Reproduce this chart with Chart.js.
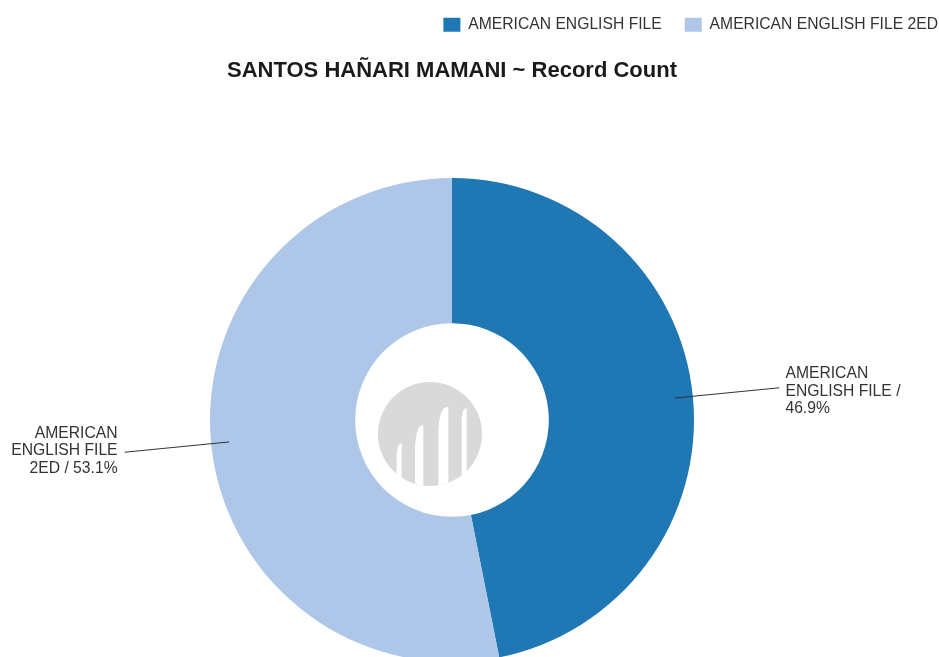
<!DOCTYPE html>
<html>
<head>
<meta charset="utf-8">
<title>SANTOS HAÑARI MAMANI ~ Record Count</title>
<script src="https://cdn.jsdelivr.net/npm/chart.js@4.4.1/dist/chart.umd.min.js"></script>
<style>
  html, body { margin: 0; padding: 0; background: #fff; overflow: hidden; }
  #wrap { position: relative; width: 939px; height: 657px; }
</style>
</head>
<body>
<div id="wrap"><canvas id="recordChart"></canvas></div>
<script>
// data
const categories = ['AMERICAN ENGLISH FILE', 'AMERICAN ENGLISH FILE 2ED'];
const recordCounts = [15, 17];
const sliceColors = ['#1f77b4', '#aec7e8'];
const chartTitle = 'SANTOS HAÑARI MAMANI ~ Record Count';

const FONT = "'Liberation Sans', Arial, sans-serif";

// wrap a label into lines no wider than maxWidth
function wrapText(ctx, text, maxWidth) {
    const words = text.split(' ');
    const lines = [];
    let line = '';
    words.forEach(w => {
        const test = line ? line + ' ' + w : w;
        if (line && ctx.measureText(test).width > maxWidth) {
            lines.push(line);
            line = w;
        } else {
            line = test;
        }
    });
    if (line) lines.push(line);
    return lines;
}

// the pie in the original sits a bit left of centre and runs off the bottom
const pieArea = {
    id: 'pieArea',
    afterLayout(chart) {
        const top = 178, bottom = 662, left = -35, right = 939;
        chart.chartArea = { left, top, right, bottom, width: right - left, height: bottom - top };
    }
};

// outside labels with radial leader lines
const sliceLabels = {
    id: 'sliceLabels',
    afterDatasetsDraw(chart) {
        const ctx = chart.ctx;
        const meta = chart.getDatasetMeta(0);
        const data = chart.data.datasets[0].data;
        const total = data.reduce((a, b) => a + b, 0);
        ctx.save();
        ctx.font = '15.7px ' + FONT;
        meta.data.forEach((arc, i) => {
            const p = arc.getProps(['x', 'y', 'startAngle', 'endAngle', 'outerRadius'], true);
            const mid = (p.startAngle + p.endAngle) / 2;
            const c = Math.cos(mid), s = Math.sin(mid);
            const x1 = p.x + c * (p.outerRadius - 18), y1 = p.y + s * (p.outerRadius - 18);
            const x2 = p.x + c * (p.outerRadius + 87), y2 = p.y + s * (p.outerRadius + 87);
            ctx.strokeStyle = '#333';
            ctx.lineWidth = 1;
            ctx.beginPath();
            ctx.moveTo(x1, y1);
            ctx.lineTo(x2, y2);
            ctx.stroke();

            const pct = (data[i] / total * 100).toFixed(1);
            const lines = wrapText(ctx, chart.data.labels[i] + ' / ' + pct + '%', 125);
            const right = c >= 0;
            ctx.fillStyle = '#333';
            ctx.textAlign = right ? 'left' : 'right';
            ctx.textBaseline = 'middle';
            const lh = 17.5;
            const tx = right ? x2 + 6 : x2 - 7;
            const top = y2 + (right ? 3.5 : -1.5) - (lines.length - 1) * lh / 2;
            lines.forEach((ln, k) => ctx.fillText(ln, tx, top + k * lh));
        });
        ctx.restore();
    }
};

// grey watermark in the hole
const holeLogo = {
    id: 'holeLogo',
    afterDatasetsDraw(chart) {
        const arc = chart.getDatasetMeta(0).data[0];
        if (!arc) return;
        const ctx = chart.ctx;
        ctx.save();
        ctx.translate(arc.x - 22, arc.y + 14);
        ctx.scale(1 / 3, 1 / 3);
        ctx.translate(-180, -177);
        ctx.beginPath();
        ctx.arc(180, 177, 156, 0, Math.PI * 2);
        ctx.fillStyle = '#d9d9d9';
        ctx.fill();
        ctx.clip();
        ctx.fillStyle = '#fff';
        const gaps = [[80, 95, 205, 45], [135, 160, 150, 85], [205, 235, 95, 85], [275, 290, 100, 40]];
        gaps.forEach(([xl, xr, t, d]) => {
            ctx.beginPath();
            ctx.moveTo(xr, t);
            ctx.lineTo(xr, 400);
            ctx.lineTo(xl, 400);
            ctx.lineTo(xl, t + d);
            ctx.quadraticCurveTo(xl, t, xr, t);
            ctx.fill();
        });
        ctx.restore();
    }
};

new Chart(document.getElementById('recordChart'), {
    type: 'doughnut',
    data: {
        labels: categories,
        datasets: [{
            data: recordCounts,
            backgroundColor: sliceColors,
            borderWidth: 0
        }]
    },
    options: {
        responsive: true,
        maintainAspectRatio: false,
        animation: false,
        events: [],
        cutout: '40%',
        layout: { padding: { left: -57, right: -22, top: -6, bottom: 0 } },
        plugins: {
            legend: {
                position: 'top',
                align: 'end',
                weight: 3000,
                labels: {
                    boxWidth: 17,
                    boxHeight: 14,
                    padding: 23,
                    color: '#333',
                    font: { family: FONT, size: 15.7 }
                }
            },
            title: {
                display: true,
                text: chartTitle,
                color: '#1a1a1a',
                font: { family: FONT, size: 22, weight: 'bold' },
                padding: { top: 15.5, bottom: 93.75 }
            },
            tooltip: { enabled: false }
        }
    },
    plugins: [pieArea, holeLogo, sliceLabels]
});
</script>
</body>
</html>
